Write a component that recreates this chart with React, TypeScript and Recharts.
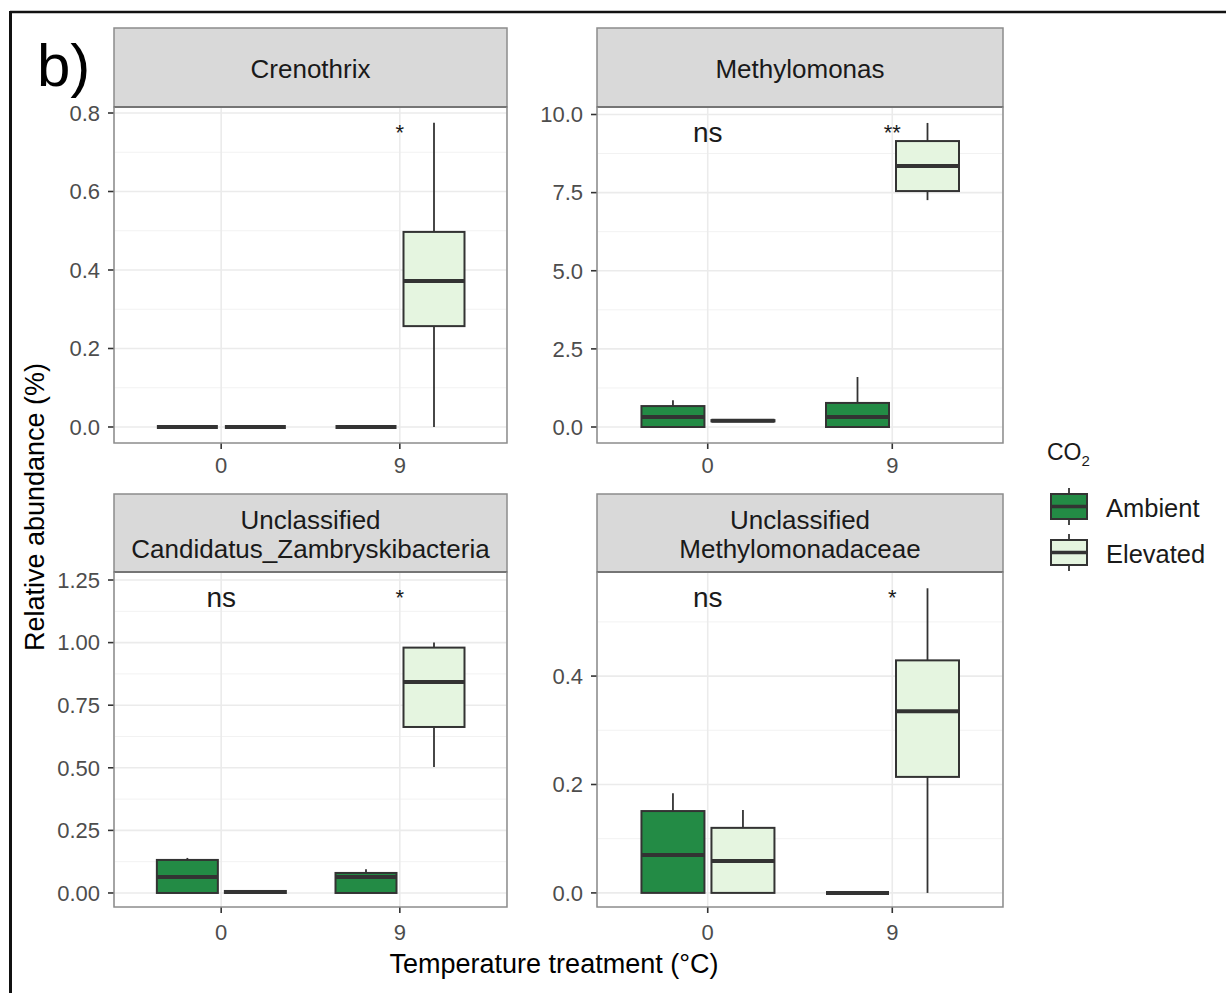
import React from 'react';
import { ComposedChart, Bar, XAxis, YAxis, CartesianGrid, ReferenceDot } from 'recharts';

const FONT = '"Liberation Sans", Arial, Helvetica, sans-serif';
const AMBIENT = '#238B45';
const ELEVATED = '#E5F5E0';
const EDGE = '#333333';
const FRAME = '#8C8C8C';

// Temperature treatments (°C)
const temps = ['0', '9'];

// Box summaries per temperature: [min, q1, median, q3, max]
const crenothrixAmbient = [[0, 0, 0, 0, 0], [0, 0, 0, 0, 0]];
const crenothrixElevated = [[0, 0, 0, 0, 0], [0, 0.257, 0.372, 0.497, 0.775]];
const methylomonasAmbient = [[0, 0, 0.32, 0.67, 0.86], [0, 0, 0.32, 0.77, 1.6]];
const methylomonasElevated = [[0.16, 0.18, 0.2, 0.22, 0.24], [7.26, 7.55, 8.35, 9.15, 9.73]];
const zambryskiAmbient = [[0, 0, 0.064, 0.132, 0.14], [0, 0, 0.064, 0.08, 0.095]];
const zambryskiElevated = [[0, 0, 0.004, 0.008, 0.01], [0.503, 0.663, 0.843, 0.98, 1.0]];
const methylomonadaceaeAmbient = [[0, 0, 0.07, 0.151, 0.184], [0, 0, 0, 0, 0]];
const methylomonadaceaeElevated = [[0, 0, 0.059, 0.12, 0.153], [0, 0.214, 0.335, 0.429, 0.562]];

// CO2 effect significance within each temperature
const crenothrixSig = ['', '*'];
const methylomonasSig = ['ns', '**'];
const zambryskiSig = ['ns', '*'];
const methylomonadaceaeSig = ['ns', '*'];

// y tick labels and minor grid values
const crenothrixTicks = [0, 0.2, 0.4, 0.6, 0.8];
const crenothrixMinor = [0.1, 0.3, 0.5, 0.7];
const methylomonasTicks = [0, 2.5, 5, 7.5, 10];
const methylomonasMinor = [1.25, 3.75, 6.25, 8.75];
const zambryskiTicks = [0, 0.25, 0.5, 0.75, 1, 1.25];
const zambryskiMinor = [0.125, 0.375, 0.625, 0.875, 1.125];
const methylomonadaceaeTicks = [0, 0.2, 0.4];
const methylomonadaceaeMinor = [0.1, 0.3, 0.5];

const legendItems = [
  { label: 'Ambient', fill: AMBIENT },
  { label: 'Elevated', fill: ELEVATED },
];

const Y_W = 60;
const X_H = 44;
const TOP_M = 14;

const panels = [
  {
    title: ['Crenothrix'], amb: crenothrixAmbient, elev: crenothrixElevated, sig: crenothrixSig,
    ticks: crenothrixTicks, minor: crenothrixMinor, domain: [-0.0408, 0.8153], digits: 1, sigY: 0.752,
    left: 114, top: 107, width: 393, height: 336, stripTop: 28, box: 61, tickGap: 8,
  },
  {
    title: ['Methylomonas'], amb: methylomonasAmbient, elev: methylomonasElevated, sig: methylomonasSig,
    ticks: methylomonasTicks, minor: methylomonasMinor, domain: [-0.512, 10.24], digits: 1, sigY: 9.44,
    left: 597, top: 107, width: 406, height: 336, stripTop: 28, box: 63, tickGap: 8,
  },
  {
    title: ['Unclassified', 'Candidatus_Zambryskibacteria'], amb: zambryskiAmbient, elev: zambryskiElevated,
    sig: zambryskiSig, ticks: zambryskiTicks, minor: zambryskiMinor, domain: [-0.056, 1.282], digits: 2,
    sigY: 1.182, left: 114, top: 572, width: 393, height: 335, stripTop: 494, box: 61, tickGap: 11,
  },
  {
    title: ['Unclassified', 'Methylomonadaceae'], amb: methylomonadaceaeAmbient, elev: methylomonadaceaeElevated,
    sig: methylomonadaceaeSig, ticks: methylomonadaceaeTicks, minor: methylomonadaceaeMinor,
    domain: [-0.026, 0.592], digits: 1, sigY: 0.546, left: 597, top: 572, width: 406, height: 335,
    stripTop: 494, box: 63, tickGap: 11,
  },
];

// Draws a box-and-whisker from the bar's [min, max] span; inner stats are placed linearly inside it
const BoxShape = (props: any) => {
  const { x, y, width, height, stats, color } = props;
  const [lo, q1, med, q3, hi] = stats as number[];
  const span = hi - lo;
  const py = (v: number) => (span > 0 ? y + (height * (hi - v)) / span : y);
  const cx = x + width / 2;
  return (
    <g>
      <line x1={cx} x2={cx} y1={py(hi)} y2={py(q3)} stroke={EDGE} strokeWidth={1.8} />
      <line x1={cx} x2={cx} y1={py(q1)} y2={py(lo)} stroke={EDGE} strokeWidth={1.8} />
      <rect x={x} y={py(q3)} width={width} height={py(q1) - py(q3)} fill={color} stroke={EDGE} strokeWidth={2} />
      <line x1={x} x2={x + width} y1={py(med)} y2={py(med)} stroke={EDGE} strokeWidth={4} />
    </g>
  );
};

function Panel({ p }: { p: any }) {
  const data = temps.map((t, i) => ({ temp: t, amb: p.amb[i], elev: p.elev[i], sig: p.sig[i] }));
  // discrete axis expands 0.6 of a step on each side
  const pad = p.width / 22;
  const tickStyle = { fill: '#4D4D4D', fontSize: 22, fontFamily: FONT };
  return (
    <div style={{ position: 'absolute', left: p.left - Y_W, top: p.top - TOP_M }}>
      <ComposedChart
        width={Y_W + p.width}
        height={p.height + X_H + TOP_M}
        data={data}
        margin={{ top: TOP_M, right: 0, bottom: 0, left: 0 }}
        barSize={p.box}
        barGap={7}
      >
        <CartesianGrid horizontalValues={p.minor} vertical={false} stroke="#F2F2F2" strokeWidth={1} />
        <CartesianGrid horizontalValues={p.ticks} stroke="#EBEBEB" strokeWidth={1.6} />
        <XAxis
          dataKey="temp"
          type="category"
          padding={{ left: pad, right: pad }}
          height={X_H}
          axisLine={false}
          tickSize={6}
          tickMargin={p.tickGap}
          tickLine={{ stroke: EDGE, strokeWidth: 1.6 }}
          tick={tickStyle}
        />
        <YAxis
          type="number"
          domain={p.domain}
          allowDataOverflow
          ticks={p.ticks}
          interval={0}
          tickFormatter={(v: number) => v.toFixed(p.digits)}
          width={Y_W}
          axisLine={false}
          tickSize={6}
          tickMargin={8}
          tickLine={{ stroke: EDGE, strokeWidth: 1.6 }}
          tick={tickStyle}
        />
        <Bar
          dataKey={(d: any) => [d.amb[0], d.amb[4]]}
          fill={AMBIENT}
          isAnimationActive={false}
          shape={(s: any) => <BoxShape {...s} stats={s.payload.amb} color={AMBIENT} />}
        />
        <Bar
          dataKey={(d: any) => [d.elev[0], d.elev[4]]}
          fill={ELEVATED}
          isAnimationActive={false}
          shape={(s: any) => <BoxShape {...s} stats={s.payload.elev} color={ELEVATED} />}
        />
        {data
          .filter((d) => d.sig)
          .map((d) => (
            <ReferenceDot
              key={d.temp}
              x={d.temp}
              y={p.sigY}
              r={1}
              fill="none"
              stroke="none"
              label={{
                value: d.sig,
                position: 'center',
                fill: '#1A1A1A',
                fontSize: d.sig === 'ns' ? 28 : 22,
                fontFamily: FONT,
              }}
            />
          ))}
      </ComposedChart>
    </div>
  );
}

export default function App() {
  return (
    <div style={{ position: 'absolute', left: 0, top: 0, width: 1226, height: 993, background: '#fff', fontFamily: FONT }}>
      {panels.map((p, i) => (
        <Panel key={i} p={p} />
      ))}
      <svg width={1226} height={993} style={{ position: 'absolute', left: 0, top: 0, pointerEvents: 'none' }}>
        {/* figure frame */}
        <line x1={10} x2={1226} y1={12} y2={12} stroke="#111" strokeWidth={2.5} />
        <line x1={10.5} x2={10.5} y1={11} y2={993} stroke="#111" strokeWidth={3} />
        <text x={37} y={86} fontSize={60} fill="#000" fontFamily={FONT}>b)</text>

        {panels.map((p, i) => {
          const cx = p.left + p.width / 2;
          const stripH = p.top - p.stripTop;
          const baselines = p.title.length === 1 ? [p.stripTop + stripH / 2 + 10] : [p.stripTop + 35, p.stripTop + 64];
          return (
            <g key={i}>
              <rect x={p.left} y={p.stripTop} width={p.width} height={stripH} fill="#D9D9D9" stroke={FRAME} strokeWidth={1.5} />
              <line x1={p.left} x2={p.left + p.width} y1={p.top} y2={p.top} stroke={EDGE} strokeWidth={2} />
              {p.title.map((t: string, j: number) => (
                <text key={j} x={cx} y={baselines[j]} textAnchor="middle" fontSize={26} fill="#1A1A1A" fontFamily={FONT}>
                  {t}
                </text>
              ))}
              <rect x={p.left} y={p.top} width={p.width} height={p.height} fill="none" stroke={FRAME} strokeWidth={1.5} />
            </g>
          );
        })}

        <text transform="translate(44,507) rotate(-90)" textAnchor="middle" fontSize={27} fill="#000" fontFamily={FONT}>
          Relative abundance (%)
        </text>
        <text x={554} y={973} textAnchor="middle" fontSize={27} fill="#000" fontFamily={FONT}>
          Temperature treatment (°C)
        </text>

        {/* legend */}
        <text x={1047} y={460} fontSize={23} fill="#1A1A1A" fontFamily={FONT}>
          CO<tspan fontSize={15} dy={6}>2</tspan>
        </text>
        {legendItems.map((item, i) => {
          const top = 494 + i * 46;
          return (
            <g key={item.label}>
              <line x1={1069} x2={1069} y1={top - 6} y2={top + 31} stroke={EDGE} strokeWidth={1.8} />
              <rect x={1051} y={top} width={36} height={25} fill={item.fill} stroke={EDGE} strokeWidth={2} />
              <line x1={1051} x2={1087} y1={top + 12.5} y2={top + 12.5} stroke={EDGE} strokeWidth={3.5} />
              <text x={1106} y={top + 23} fontSize={25.5} fill="#1A1A1A" fontFamily={FONT}>
                {item.label}
              </text>
            </g>
          );
        })}
      </svg>
    </div>
  );
}
